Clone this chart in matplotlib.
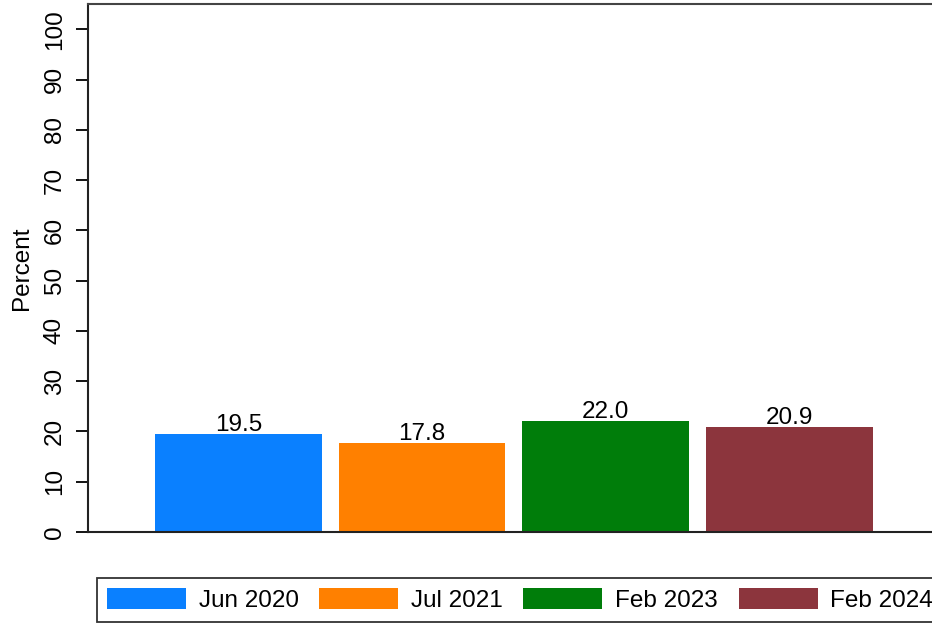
import numpy as np
import matplotlib.pyplot as plt

plt.rcParams['font.family'] = ['Liberation Sans', 'DejaVu Sans']

# 数据
periods = ['Jun 2020', 'Jul 2021', 'Feb 2023', 'Feb 2024']
values = [19.5, 17.8, 22.0, 20.9]
colors = ['#0A80FF', '#FF8000', '#007D0A', '#8C353D']
yticks = np.arange(0, 101, 10)

fs = 17.5  # 统一字号

fig = plt.figure(figsize=(9.32, 6.24), dpi=100)
ax = fig.add_axes([0.0944, 0.1474, 0.914, 0.846])

x = np.arange(len(periods))
bars = ax.bar(x, values, width=0.908, color=colors, label=periods)

# 柱子上方的数值
for xi, v in zip(x, values):
    ax.text(xi, v - 0.4, f'{v:.1f}', ha='center', va='bottom', fontsize=fs)

ax.set_xlim(-0.818, 3.818)
ax.set_ylim(0, 105)
ax.set_xticks([])
ax.set_yticks(yticks)
ax.set_yticklabels([str(t) for t in yticks], rotation=90, va='center', fontsize=fs)
ax.tick_params(axis='y', length=9, width=1.3, pad=7)
ax.set_ylabel('Percent', fontsize=fs, labelpad=8)

for side in ['left', 'bottom']:
    ax.spines[side].set_linewidth(1.5)
    ax.spines[side].set_color('#222222')
ax.spines['top'].set_linewidth(1.5)
ax.spines['top'].set_color('#444444')
ax.spines['right'].set_visible(False)

leg = fig.legend(handles=bars.patches, labels=periods, loc='lower left',
                 bbox_to_anchor=(0.104, 0.003), ncol=4, fontsize=fs,
                 handlelength=3.25, handleheight=1.0, handletextpad=0.53,
                 columnspacing=0.84, borderpad=0.42, borderaxespad=0.0,
                 fancybox=False, edgecolor='#333333', framealpha=1)
leg.get_frame().set_linewidth(1.3)

fig.savefig('out.png', dpi=100)
